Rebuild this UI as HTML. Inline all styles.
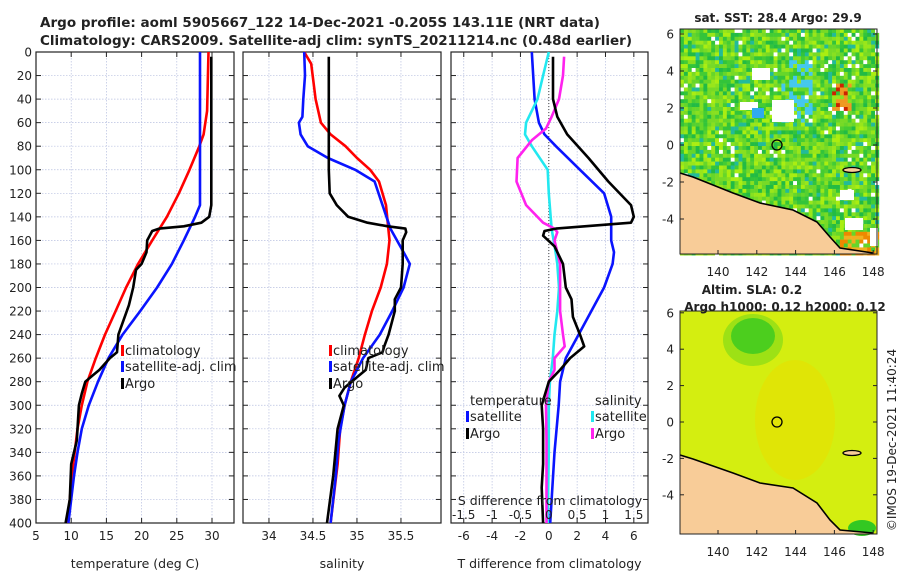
<!DOCTYPE html>
<html><head><meta charset="utf-8">
<style>
body{margin:0;background:#fff;}
svg{display:block;font-family:"DejaVu Sans","Liberation Sans",sans-serif;}
text{fill:#222;}
</style></head>
<body>
<svg id="fig" width="900" height="580" viewBox="0 0 900 580" xmlns="http://www.w3.org/2000/svg">
<text x="40" y="27" font-size="13" font-weight="bold" textLength="560" lengthAdjust="spacingAndGlyphs">Argo profile: aoml 5905667_122 14-Dec-2021 -0.205S 143.11E (NRT data)</text>
<text x="40" y="45" font-size="13" font-weight="bold" textLength="592" lengthAdjust="spacingAndGlyphs">Climatology: CARS2009. Satellite-adj clim: synTS_20211214.nc (0.48d earlier)</text>
<g id="plots"></g>
<text x="778" y="22" font-size="12" font-weight="bold" text-anchor="middle">sat. SST: 28.4 Argo: 29.9</text>
<text x="752" y="294" font-size="12" font-weight="bold" text-anchor="middle">Altim. SLA: 0.2</text>
<text x="785" y="311" font-size="12" font-weight="bold" text-anchor="middle">Argo h1000: 0.12 h2000: 0.12</text>
<text transform="translate(896,440) rotate(-90)" font-size="12" text-anchor="middle">©IMOS 19-Dec-2021 11:40:24</text>
</svg>
<script>
const depthTicks=[0,20,40,60,80,100,120,140,160,180,200,220,240,260,280,300,320,340,360,380,400];
const tempTicks=[5,10,15,20,25,30];
const salTicks=[34,34.5,35,35.5];
const tdiffTicks=[-6,-4,-2,0,2,4,6];
const sdiffTicks=[-1.5,-1,-0.5,0,0.5,1,1.5];
const sdiffLabels=["-1.5","-1","-0.5","0","0.5","1","1.5"];
const lonTicks=[140,142,144,146,148];
const latTicks=[-4,-2,0,2,4,6];

const climT_d=[0,50,70,80,100,120,140,160,180,200,220,240,260,280,300,320,340,360,380,400];
const climT_v=[29.5,29.3,28.8,28.2,26.8,25.3,23.6,21.5,19.5,17.8,16.3,14.8,13.5,12.3,11.5,10.9,10.5,10.1,9.8,9.5];
const satT_d=[0,120,130,140,160,180,200,220,240,260,280,300,320,340,360,380,400];
const satT_v=[28.3,28.3,28.3,27.6,26,24.3,22.2,19.8,17.3,15.3,13.8,12.5,11.5,10.9,10.4,10.0,9.6];
const argoT_d=[4,100,130,140,145,148,150,152,160,170,180,185,200,215,230,240,255,260,270,275,280,290,300,330,350,380,400];
const argoT_v=[29.9,29.9,29.9,29.6,28.5,26,22.5,21.5,20.8,20.7,20,19.2,18.8,18.2,17.3,16.7,16.5,15.5,14,13,12,11.5,11.1,10.8,10,9.8,9.2];

const climS_d=[0,10,40,60,70,80,90,100,110,130,160,180,200,220,240,260,280,300,320,350,400];
const climS_v=[34.4,34.48,34.53,34.59,34.7,34.87,35.0,35.15,35.25,35.33,35.37,35.34,35.27,35.17,35.09,35.02,34.93,34.86,34.81,34.78,34.7];
const satS_d=[0,20,40,55,60,70,80,90,100,110,130,150,170,180,200,220,240,260,280,300,330,360,400];
const satS_v=[34.4,34.41,34.39,34.38,34.34,34.36,34.44,34.67,34.98,35.2,35.29,35.38,35.53,35.6,35.53,35.4,35.26,35.07,34.93,34.86,34.79,34.76,34.7];
const argoS_d=[4,100,120,130,140,145,148,150,153,160,180,200,210,220,240,250,255,260,270,275,285,292,300,320,360,400];
const argoS_v=[34.68,34.68,34.69,34.77,34.9,35.12,35.35,35.55,35.56,35.52,35.52,35.5,35.43,35.43,35.36,35.31,35.29,35.13,35.1,35.02,34.86,34.8,34.85,34.78,34.73,34.66];

const dTsat_d=[0,40,60,70,80,100,120,140,160,170,180,200,220,240,260,280,300,340,400];
const dTsat_v=[-1.2,-1.0,-0.7,-0.3,0.5,2.2,3.9,4.4,4.4,4.6,4.5,3.9,3.0,2.1,1.2,0.8,0.7,0.4,0.1];
const dTargo_d=[4,40,55,70,90,110,130,140,145,150,152,156,165,180,200,210,225,240,250,260,270,280,300,320,350,370,400];
const dTargo_v=[0.3,0.3,0.6,1.3,2.8,4.2,5.8,6.0,5.8,0.5,-0.3,-0.4,0.4,1.0,1.2,1.6,1.7,2.2,2.5,1.5,0.8,0,-0.5,-0.4,-0.4,-0.5,-0.4];
const dSsat_d=[0,20,40,60,70,80,100,120,150,170,180,200,220,240,260,280,300,340,400];
const dSsat_v=[0.0,-0.1,-0.2,-0.4,-0.42,-0.3,-0.02,0.0,0.05,0.12,0.15,0.18,0.15,0.1,0.07,0.02,0.0,0.0,-0.02];
const dSargo_d=[4,20,40,55,65,75,90,110,130,145,150,153,160,180,200,220,240,250,260,270,280,300,330,400];
const dSargo_v=[0.27,0.25,0.18,0.05,-0.05,-0.3,-0.55,-0.57,-0.4,-0.1,0.1,0.15,0.1,0.2,0.2,0.2,0.25,0.28,0.1,0.1,0.0,-0.05,-0.04,-0.04];

const NS="http://www.w3.org/2000/svg";
const root=document.getElementById('plots');
function mk(tag,attrs,parent){const e=document.createElementNS(NS,tag);for(const k in attrs)e.setAttribute(k,attrs[k]);(parent||root).appendChild(e);return e;}
const Y0=52,Y1=523;
const yD=d=>Y0+(Y1-Y0)*d/400;

function panel(name,x0,x1,vmin,vmax,ticks,labels,xlabel,showDepth){
  const g=mk('g',{});
  
  
  const sx=v=>x0+(v-vmin)/(vmax-vmin)*(x1-x0);
  ticks.forEach((t,i)=>{const x=sx(t);
    if(x>x0+1&&x<x1-1){const l=mk('line',{x1:x,x2:x,y1:Y0,y2:Y1,stroke:'#b8c0e0','stroke-width':0.7,'stroke-dasharray':'1.5,1.5'},g);}
    mk('line',{x1:x,x2:x,y1:Y1,y2:Y1-5,stroke:'#222'},g);mk('line',{x1:x,x2:x,y1:Y0,y2:Y0+5,stroke:'#222'},g);
    const tx=mk('text',{x:x,y:Y1+17,'font-size':12,'text-anchor':'middle'},g);tx.textContent=labels[i];
    
  });
  depthTicks.forEach(d=>{const y=yD(d);
    if(d>0&&d<400)mk('line',{x1:x0,x2:x1,y1:y,y2:y,stroke:'#b8c0e0','stroke-width':0.7,'stroke-dasharray':'1.5,1.5'},g);
    mk('line',{x1:x0,x2:x0+5,y1:y,y2:y,stroke:'#222'},g);mk('line',{x1:x1,x2:x1-5,y1:y,y2:y,stroke:'#222'},g);
    if(showDepth){const t=mk('text',{x:x0-4,y:y+4.5,'font-size':12,'text-anchor':'end'},g);t.textContent=d;
      }
  });
  mk('rect',{x:x0,y:Y0,width:x1-x0,height:Y1-Y0,fill:'none',stroke:'#222','stroke-width':1.2},g);
  const xl=mk('text',{x:(x0+x1)/2,y:568,'font-size':12.5,'text-anchor':'middle'},g);xl.textContent=xlabel;
  
  return {g,sx};
}
function line(p,ds,vs,color,name){
  const pts=ds.map((d,i)=>p.sx(vs[i]).toFixed(1)+','+yD(d).toFixed(1)).join(' ');
  const l=mk('polyline',{points:pts,fill:'none',stroke:color,'stroke-width':2.6,'stroke-linejoin':'round'},p.g);
  
  
}
function legend(p,x,y,color,label,name){
  const g=mk('g',{},p.g);
  
  
  mk('rect',{x:x,y:y-10,width:3,height:11,fill:color},g);
  const t=mk('text',{x:x+4,y:y,'font-size':13},g);t.textContent=label;
}

const p1=panel('temperature-panel',36,234,5,33.125,tempTicks,tempTicks.map(String),'temperature (deg C)',true);
line(p1,climT_d,climT_v,'#ff0000','climatology-temperature-line');
line(p1,satT_d,satT_v,'#0a14ff','satellite-temperature-line');
line(p1,argoT_d,argoT_v,'#000','argo-temperature-line');
legend(p1,121,355,'#ff0000','climatology','legend-climatology');
legend(p1,121,371,'#0a14ff','satellite-adj. clim','legend-satellite');
legend(p1,121,388,'#000','Argo','legend-argo');

const p2=panel('salinity-panel',243,441,33.705,35.955,salTicks,['34','34.5','35','35.5'],'salinity',false);
line(p2,climS_d,climS_v,'#ff0000','climatology-salinity-line');
line(p2,satS_d,satS_v,'#0a14ff','satellite-salinity-line');
line(p2,argoS_d,argoS_v,'#000','argo-salinity-line');
legend(p2,329,355,'#ff0000','climatology','legend-climatology-s');
legend(p2,329,371,'#0a14ff','satellite-adj. clim','legend-satellite-s');
legend(p2,329,388,'#000','Argo','legend-argo-s');

const p3=panel('difference-panel',451,648,-6.9,7.0,tdiffTicks,tdiffTicks.map(String),'T difference from climatology',false);
const sxT=p3.sx;
mk('line',{x1:sxT(0),x2:sxT(0),y1:Y0,y2:Y1,stroke:'#444','stroke-width':1,'stroke-dasharray':'1,2'},p3.g);
const pS={g:p3.g,sx:v=>sxT(0)+v*56.7};
line(p3,dTsat_d,dTsat_v,'#0a14ff','temperature-satellite-diff-line');
line(pS,dSsat_d,dSsat_v,'#22e8f0','salinity-satellite-diff-line');
line(pS,dSargo_d,dSargo_v,'#ff22ee','salinity-argo-diff-line');
line(p3,dTargo_d,dTargo_v,'#000','temperature-argo-diff-line');
const th=mk('text',{x:470,y:405,'font-size':13},p3.g);th.textContent='temperature';
const sh=mk('text',{x:595,y:405,'font-size':13},p3.g);sh.textContent='salinity';
legend(p3,466,421,'#0a14ff','satellite','legend-t-satellite');
legend(p3,466,438,'#000','Argo','legend-t-argo');
legend(p3,591,421,'#22e8f0','satellite','legend-s-satellite');
legend(p3,591,438,'#ff22ee','Argo','legend-s-argo');
const sl=mk('text',{x:550,y:505,'font-size':12.5,'text-anchor':'middle'},p3.g);sl.textContent='S difference from climatology';

sdiffTicks.forEach((v,i)=>{const t=mk('text',{x:pS.sx(v),y:519,'font-size':12,'text-anchor':'middle'},p3.g);t.textContent=sdiffLabels[i];
  });

// maps
function hash(i,j){let h=(i*374761393+j*668265263)^0x5bd1e995;h=(h^(h>>>13))*1274126177;return ((h^(h>>>16))>>>0)/4294967296;}
function map(name,top,bottom,latTop,kind){
  const x0=680,x1=877;
  const g=mk('g',{});
  
  
  const sx=lon=>718+(lon-140)*19.4;
  if(kind==='sst'){
    const pal=['#44cc33','#66d62a','#88e020','#99e61a','#33c43a','#77da26','#22bb44','#aaee11','#55d030'];
    const c=3.9;
    for(let i=0;i*c<x1-x0;i++)for(let j=0;j*c<bottom-top;j++){
      const r=hash(i,j);let col=pal[Math.floor(r*pal.length)];
      const x=x0+i*c,y=top+j*c;
      if(r>0.93)col='#22bb99';
      if(x>780&&x<810&&y>60&&y<120&&r>0.6)col='#44c8ee';
      if(x>832&&x<850&&y>80&&y<110&&r>0.5)col=r>0.85?'#cc2200':'#ee9922';
      if(x>838&&y>228&&r>0.2)col=r>0.6?'#f0b020':'#ee8800';
      if(r<0.04)col='#ffffff';
      mk('rect',{x:x,y:y,width:c+0.3,height:c+0.3,fill:col},g);
    }
    [[752,68,18,12],[772,100,22,22],[740,102,18,8],[870,228,8,18],[840,190,14,10],[845,218,18,12]].forEach(r=>mk('rect',{x:r[0],y:r[1],width:r[2],height:r[3],fill:'#fff'},g));
    mk('rect',{x:752,y:108,width:12,height:10,fill:'#30aaee'},g);
  } else {
    mk('rect',{x:x0,y:top,width:x1-x0,height:bottom-top,fill:'#d4ee10'},g);
    mk('ellipse',{cx:795,cy:420,rx:40,ry:60,fill:'#e8e000',opacity:0.6},g);
    mk('ellipse',{cx:753,cy:336,rx:22,ry:18,fill:'#33c822'},g);
    mk('ellipse',{cx:753,cy:340,rx:30,ry:26,fill:'#66d41a',opacity:0.5},g);
    mk('ellipse',{cx:862,cy:528,rx:14,ry:8,fill:'#33c822'},g);
  }
  const coast=kind==='sst'?[[680,173],[693,177],[733,193],[760,203],[793,210],[817,222],[830,237],[840,248],[873,253]]:[[680,455],[693,459],[733,473],[760,483],[793,488],[817,503],[830,520],[840,530],[873,533]];
  const land=coast.map(p=>p.join(',')).join(' ')+` 873,${bottom} 680,${bottom}`;
  mk('polygon',{points:land,fill:'#f8cc98'},g);
  mk('polyline',{points:coast.map(p=>p.join(',')).join(' '),fill:'none',stroke:'#000','stroke-width':1.6},g);
  const isl=kind==='sst'?172:455;
  mk('ellipse',{cx:852,cy:isl-2,rx:9,ry:2.5,fill:'#f8cc98',stroke:'#000','stroke-width':1.3},g);
  const ring=mk('circle',{cx:777,cy:kind==='sst'?145:422,r:5,fill:'none',stroke:'#000','stroke-width':1.3},g);
  
  mk('rect',{x:x0,y:top,width:x1-x0,height:bottom-top,fill:'none',stroke:'#222','stroke-width':1},g);
  lonTicks.forEach(l=>{const x=sx(l);mk('line',{x1:x,x2:x,y1:bottom,y2:bottom-4,stroke:'#222'},g);
    const t=mk('text',{x:x,y:bottom+22,'font-size':12,'text-anchor':'middle'},g);t.textContent=l;
    });
  const zero=kind==='sst'?145:422,per=kind==='sst'?18.5:18.2;
  latTicks.forEach(l=>{const y=zero-l*per;if(y<top-2||y>bottom)return;
    mk('line',{x1:x0,x2:x0+4,y1:y,y2:y,stroke:'#222'},g);mk('line',{x1:x1,x2:x1-4,y1:y,y2:y,stroke:'#222'},g);
    const t=mk('text',{x:x0-6,y:y+4.5,'font-size':12,'text-anchor':'end'},g);t.textContent=l;
    });
}
map('sst-map',29,254,6.2,'sst');
map('sla-map',311,534,6.1,'sla');
</script>
</body></html>
